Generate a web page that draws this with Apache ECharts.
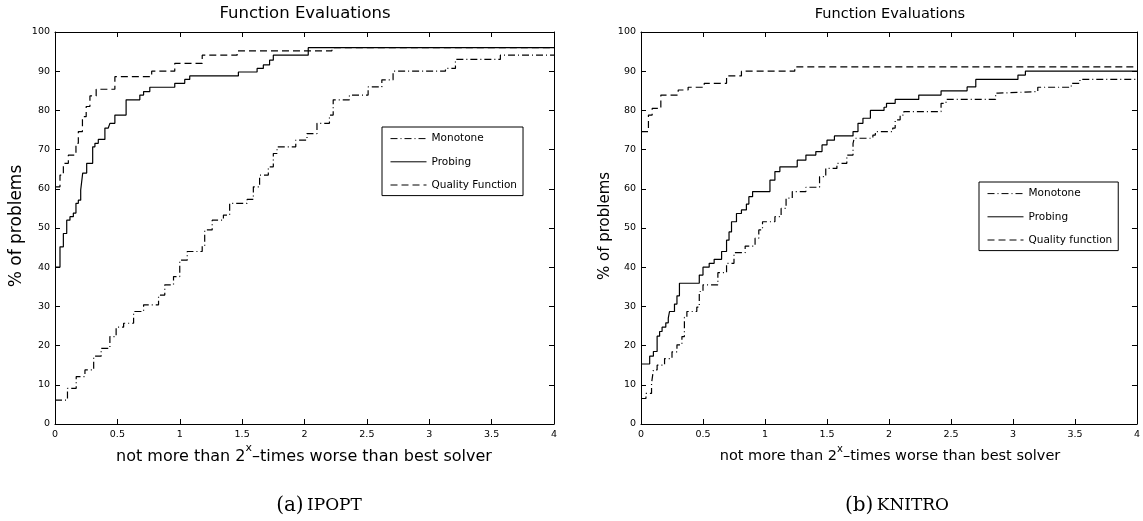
<!DOCTYPE html>
<html>
<head>
<meta charset="utf-8">
<script src="https://cdn.jsdelivr.net/npm/echarts@6/dist/echarts.min.js"></script>
<style>
  html, body { margin: 0; padding: 0; background: #fff; }
  #chart { width: 1143px; height: 521px; }
</style>
</head>
<body>
<div id="chart"></div>
<script>
// Performance profiles: share of problems solved within 2^x of the best solver.
// Each pair is [x, percent] where the profile steps up to that percent at x.

const seriesNamesA = ['Monotone', 'Probing', 'Quality Function'];
const seriesNamesB = ['Monotone', 'Probing', 'Quality function'];
const xTicks = [0, 0.5, 1, 1.5, 2, 2.5, 3, 3.5, 4];
const yTicks = [0, 10, 20, 30, 40, 50, 60, 70, 80, 90, 100];

// (a) IPOPT
const monotoneA = [
  [0, 6.1], [0.1, 9.1], [0.17, 12.1], [0.24, 13.8], [0.31, 17.3], [0.37, 19.3],
  [0.44, 22.3], [0.49, 24.7], [0.55, 25.7], [0.63, 28.7], [0.71, 30.4], [0.83, 32.9],
  [0.88, 35.5], [0.95, 37.6], [1.0, 41.8], [1.06, 44], [1.18, 45.4], [1.2, 49.5],
  [1.26, 52], [1.35, 53.3], [1.4, 56.3], [1.54, 57.3], [1.59, 60.5], [1.64, 63.5],
  [1.71, 65.6], [1.75, 69], [1.78, 70.7], [1.93, 72.4], [2.02, 74.1], [2.1, 76.7],
  [2.2, 78.8], [2.23, 82.7], [2.36, 83.9], [2.51, 86], [2.62, 87.8], [2.71, 90],
  [3.13, 90.7], [3.21, 93], [3.57, 94.1], [4, 94.1]
];
const probingA = [
  [0, 40], [0.04, 45.2], [0.067, 48.6], [0.094, 52], [0.12, 52.9], [0.147, 53.8],
  [0.168, 56.3], [0.187, 57.1], [0.206, 59.7], [0.222, 64], [0.254, 66.5], [0.302, 70.7],
  [0.32, 71.6], [0.347, 72.6], [0.4, 75.5], [0.427, 75.8], [0.44, 76.7], [0.48, 78.8],
  [0.57, 82.7], [0.68, 83.9], [0.71, 84.8], [0.76, 85.9], [0.96, 86.9], [1.04, 87.9],
  [1.08, 88.8], [1.47, 89.8], [1.62, 90.7], [1.67, 91.6], [1.72, 92.8], [1.75, 94.1],
  [2.03, 96], [4, 96]
];
const qualityA = [
  [0, 60.5], [0.04, 63.5], [0.067, 66.5], [0.107, 68.6], [0.168, 71.6], [0.187, 74.6],
  [0.22, 78.4], [0.25, 81], [0.28, 83.7], [0.33, 85.4], [0.48, 88.6], [0.775, 90],
  [0.96, 92], [1.18, 94.1], [1.46, 95.2], [2.22, 96], [4, 96]
];

// (b) KNITRO
const monotoneB = [
  [0, 6.5], [0.04, 7.8], [0.085, 10.4], [0.1, 13.8], [0.13, 15], [0.19, 16.7],
  [0.25, 18.4], [0.29, 20.2], [0.33, 22.3], [0.35, 27.2], [0.37, 28.7], [0.45, 29.8],
  [0.47, 33.8], [0.5, 35.5], [0.62, 38.6], [0.69, 41], [0.75, 43.7], [0.84, 45.4],
  [0.92, 47.4], [0.95, 49.5], [0.98, 51.6], [1.08, 52.9], [1.13, 55], [1.17, 57.6],
  [1.22, 59.3], [1.33, 60.4], [1.44, 63.1], [1.49, 65.2], [1.58, 66.5], [1.66, 68.6],
  [1.71, 71.6], [1.72, 72.9], [1.87, 73.7], [1.89, 74.6], [2.03, 75.5], [2.05, 77.6],
  [2.09, 78.8], [2.12, 79.7], [2.42, 81.8], [2.46, 82.8], [2.86, 84.4], [2.88, 84.8],
  [3.2, 85.9], [3.47, 86.9], [3.54, 87.9], [4, 87.9]
];
const probingB = [
  [0, 15.3], [0.07, 17.3], [0.1, 18.5], [0.13, 22.4], [0.15, 23.6], [0.17, 24.7],
  [0.2, 25.8], [0.22, 27], [0.23, 28.7], [0.27, 30.6], [0.29, 32.7], [0.31, 35.9],
  [0.47, 38], [0.5, 40], [0.55, 41], [0.59, 42], [0.65, 44], [0.69, 46.9],
  [0.71, 49], [0.73, 51.6], [0.77, 53.7], [0.81, 54.6], [0.85, 56.1], [0.87, 58],
  [0.9, 59.3], [1.04, 62.2], [1.08, 64.4], [1.12, 65.6], [1.26, 67.3], [1.33, 68.6],
  [1.41, 69.5], [1.46, 71.2], [1.5, 72.4], [1.56, 73.5], [1.71, 74.6], [1.75, 76.7],
  [1.79, 78], [1.85, 80], [1.96, 80.8], [1.98, 81.8], [2.05, 82.8], [2.24, 83.9],
  [2.42, 85], [2.63, 86], [2.7, 87.9], [3.04, 89], [3.1, 90], [4, 90]
];
const qualityB = [
  [0, 74.6], [0.06, 78.8], [0.09, 80.5], [0.16, 83.9], [0.3, 85.2], [0.38, 85.9],
  [0.51, 86.9], [0.69, 88.8], [0.81, 90], [1.24, 91.1], [4, 91.1]
];

const SANS = 'DejaVu Sans';
const INK = '#000';

// line dash patterns for the three methods
const styleMonotone = { color: INK, width: 1.2, type: [7, 3, 1, 3] };
const styleProbing = { color: INK, width: 1.2, type: 'solid' };
const styleQuality = { color: INK, width: 1.2, type: [7, 4] };

const gridsPx = [
  { left: 55, top: 32, width: 499, height: 392 },
  { left: 641, top: 32, width: 498, height: 392 }
];

function xAxisPair(gi) {
  const base = {
    gridIndex: gi, type: 'value', min: 0, max: 4, interval: 0.5,
    splitLine: { show: false },
    axisLine: { show: true, onZero: false, lineStyle: { color: INK, width: 1 } },
    axisTick: { show: true, inside: true, length: 5, lineStyle: { color: INK } }
  };
  return [
    Object.assign({}, base, {
      position: 'bottom',
      axisLabel: {
        show: true, margin: 6, color: INK, fontFamily: SANS, fontSize: 9.5,
        formatter: v => (xTicks.indexOf(v) >= 0 ? String(v) : '')
      }
    }),
    Object.assign({}, base, { position: 'top', axisLabel: { show: false } })
  ];
}

function yAxisPair(gi) {
  const base = {
    gridIndex: gi, type: 'value', min: 0, max: 100, interval: 10,
    splitLine: { show: false },
    axisLine: { show: true, onZero: false, lineStyle: { color: INK, width: 1 } },
    axisTick: { show: true, inside: true, length: 5, lineStyle: { color: INK } }
  };
  return [
    Object.assign({}, base, {
      position: 'left',
      axisLabel: {
        show: true, margin: 5, color: INK, fontFamily: SANS, fontSize: 9.5,
        formatter: v => (yTicks.indexOf(v) >= 0 ? String(v) : '')
      }
    }),
    Object.assign({}, base, { position: 'right', axisLabel: { show: false } })
  ];
}

function profile(name, data, lineStyle, gi) {
  return {
    name, type: 'line', step: 'end', data,
    xAxisIndex: gi * 2, yAxisIndex: gi * 2,
    symbol: 'none', showSymbol: false, silent: true, animation: false,
    lineStyle
  };
}

function legendBox(names, left, top) {
  return {
    orient: 'vertical', left, top, data: names,
    selectedMode: false,
    backgroundColor: '#fff',
    borderColor: INK, borderWidth: 1, borderRadius: 0,
    padding: [6, 6, 5, 8],
    itemWidth: 36, itemHeight: 14, itemGap: 12,
    itemStyle: { opacity: 0 },
    lineStyle: { width: 1 },
    textStyle: { color: INK, fontFamily: SANS, fontSize: 10.5 }
  };
}

const option = {
  backgroundColor: '#fff',
  animation: false,
  grid: gridsPx.map(g => Object.assign({ containLabel: false }, g)),
  xAxis: [].concat(xAxisPair(0), xAxisPair(1)),
  yAxis: [].concat(yAxisPair(0), yAxisPair(1)),
  legend: [
    legendBox(seriesNamesA, 382, 127),
    legendBox(seriesNamesB, 979, 182)
  ],
  series: [
    profile(seriesNamesA[0], monotoneA, styleMonotone, 0),
    profile(seriesNamesA[1], probingA, styleProbing, 0),
    profile(seriesNamesA[2], qualityA, styleQuality, 0),
    profile(seriesNamesB[0], monotoneB, styleMonotone, 1),
    profile(seriesNamesB[1], probingB, styleProbing, 1),
    profile(seriesNamesB[2], qualityB, styleQuality, 1)
  ],
  graphic: [
    // panel titles
    { type: 'text', x: 305, y: 14, silent: true,
      style: { text: 'Function Evaluations', fill: INK, font: '16.5px "DejaVu Sans"',
               textAlign: 'center', textVerticalAlign: 'middle' } },
    { type: 'text', x: 890, y: 14, silent: true,
      style: { text: 'Function Evaluations', fill: INK, font: '14.5px "DejaVu Sans"',
               textAlign: 'center', textVerticalAlign: 'middle' } },
    // y axis titles
    { type: 'text', x: 17, y: 226, rotation: Math.PI / 2, silent: true,
      style: { text: '% of problems', fill: INK, font: '17px "DejaVu Sans"',
               textAlign: 'center', textVerticalAlign: 'middle' } },
    { type: 'text', x: 605, y: 226, rotation: Math.PI / 2, silent: true,
      style: { text: '% of problems', fill: INK, font: '15px "DejaVu Sans"',
               textAlign: 'center', textVerticalAlign: 'middle' } },
    // x axis titles with superscript x
    { type: 'text', x: 304, y: 454, silent: true,
      style: {
        text: '{m|not more than 2}{s|x}{m|\u2013times worse than best solver}',
        fill: INK, textAlign: 'center', textVerticalAlign: 'middle',
        rich: {
          m: { fontFamily: SANS, fontSize: 16, lineHeight: 22, verticalAlign: 'bottom', fill: INK },
          s: { fontFamily: SANS, fontSize: 11, lineHeight: 12, verticalAlign: 'top', fill: INK }
        }
      } },
    { type: 'text', x: 890, y: 454, silent: true,
      style: {
        text: '{m|not more than 2}{s|x}{m|\u2013times worse than best solver}',
        fill: INK, textAlign: 'center', textVerticalAlign: 'middle',
        rich: {
          m: { fontFamily: SANS, fontSize: 14.5, lineHeight: 20, verticalAlign: 'bottom', fill: INK },
          s: { fontFamily: SANS, fontSize: 10, lineHeight: 11, verticalAlign: 'top', fill: INK }
        }
      } },
    // subfigure captions
    { type: 'text', x: 319, y: 506, silent: true,
      style: {
        text: '{p|(a)} {c|IPOPT}', fill: INK, textAlign: 'center', textVerticalAlign: 'middle',
        rich: {
          p: { fontFamily: 'DejaVu Serif', fontSize: 20, fill: INK },
          c: { fontFamily: 'DejaVu Serif', fontSize: 17, fill: INK }
        }
      } },
    { type: 'text', x: 897, y: 506, silent: true,
      style: {
        text: '{p|(b)} {c|KNITRO}', fill: INK, textAlign: 'center', textVerticalAlign: 'middle',
        rich: {
          p: { fontFamily: 'DejaVu Serif', fontSize: 20, fill: INK },
          c: { fontFamily: 'DejaVu Serif', fontSize: 17, fill: INK }
        }
      } }
  ]
};

const chart = echarts.init(document.getElementById('chart'), null, { renderer: 'canvas' });
chart.setOption(option);
</script>
</body>
</html>
